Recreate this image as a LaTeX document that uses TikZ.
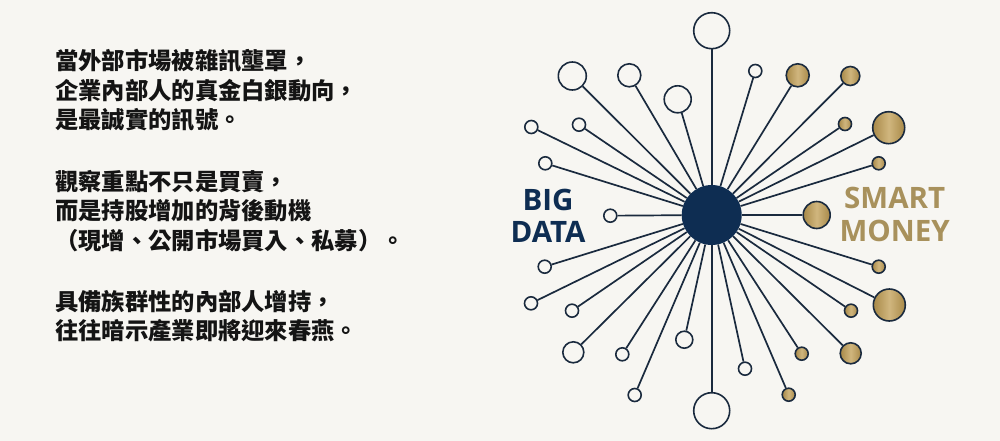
\documentclass[tikz,border=0pt]{standalone}
\usepackage{fontspec}
\usetikzlibrary{positioning}
\newfontfamily\cjkfont{Noto Sans CJK TC}
\newfontfamily\labelfont{Open Sans}
\definecolor{paper}{HTML}{F7F6F2}
\definecolor{hubnavy}{HTML}{0E2D52}
\definecolor{linenavy}{HTML}{1A2A3E}
\definecolor{golddark}{HTML}{A88948}
\definecolor{goldlight}{HTML}{D0B67E}
\definecolor{goldtext}{HTML}{A8915C}
\definecolor{inktext}{HTML}{141414}
\tikzstyle{hub}=[circle, fill=hubnavy, minimum size=60pt, inner sep=0pt]
\tikzstyle{dball}=[circle, draw=linenavy, fill=paper, line width=1.6pt,
                   inner sep=0pt]
\tikzstyle{mball}=[circle, draw=linenavy, line width=1.6pt, inner sep=0pt,
                   left color=golddark, right color=golddark, middle color=goldlight]
\tikzstyle{spoke}=[-, line width=1.7pt, draw=linenavy]
\tikzstyle{para}=[anchor=north west, inner sep=0pt, align=left, text=inktext,
                  font=\cjkfont\bfseries\fontsize{23.3pt}{29.5pt}\selectfont]
\tikzstyle{biglabel}=[align=center, inner sep=0pt,
                      font=\labelfont\bfseries\fontsize{29.5pt}{32.5pt}\selectfont]

\begin{document}
\begin{tikzpicture}[x=1pt, y=-1pt]
\fill[paper] (0,0) rectangle (1000,441);
\useasboundingbox (0,0) rectangle (1000,441);

% left text
\node (PARA1) [para] at (55,49.5) {當外部市場被雜訊壟罩，\\企業內部人的真金白銀動向，\\是最誠實的訊號。};
\node (PARA2) [para] at (55,170) {觀察重點不只是買賣，\\而是持股增加的背後動機\\（現增、公開市場買入、私募）。};
\node (PARA3) [para] at (55,290) {具備族群性的內部人增持，\\往往暗示產業即將迎來春燕。};

% hub and balls
\node (HUB) [hub] at (711.7,215) {};
\node (D01) [dball, minimum size=36pt] at (711.7,30.7) {};
\node (D02) [dball, minimum size=28pt] at (572.3,76) {};
\node (D03) [dball, minimum size=23pt] at (629.3,75.3) {};
\node (D04) [dball, minimum size=27pt] at (677.7,99.3) {};
\node (D05) [dball, minimum size=13pt] at (755.3,71) {};
\node (D06) [dball, minimum size=13pt] at (531.3,127) {};
\node (D07) [dball, minimum size=13pt] at (579,124.7) {};
\node (D08) [dball, minimum size=13pt] at (545.3,163.3) {};
\node (D09) [dball, minimum size=13pt] at (610.3,215.7) {};
\node (D10) [dball, minimum size=13pt] at (544.7,266.7) {};
\node (D11) [dball, minimum size=13pt] at (531,303.3) {};
\node (D12) [dball, minimum size=13pt] at (572,310.7) {};
\node (D13) [dball, minimum size=21pt] at (573.3,352.3) {};
\node (D14) [dball, minimum size=13pt] at (622.3,354.3) {};
\node (D15) [dball, minimum size=17pt] at (684.3,339.7) {};
\node (D16) [dball, minimum size=13pt] at (745,368.7) {};
\node (D17) [dball, minimum size=13pt] at (634.7,395) {};
\node (D18) [dball, minimum size=36pt] at (711.7,410.7) {};
\node (M01) [mball, minimum size=23pt] at (797.7,75.3) {};
\node (M02) [mball, minimum size=19pt] at (850.3,76) {};
\node (M03) [mball, minimum size=13pt] at (845,124) {};
\node (M04) [mball, minimum size=32pt] at (888.7,127.7) {};
\node (M05) [mball, minimum size=13pt] at (878.7,163.3) {};
\node (M06) [mball, minimum size=27pt] at (816.7,215) {};
\node (M07) [mball, minimum size=13pt] at (878.7,266.7) {};
\node (M08) [mball, minimum size=13pt] at (851,310.7) {};
\node (M09) [mball, minimum size=32pt] at (889.3,305) {};
\node (M10) [mball, minimum size=13pt] at (801.7,353.7) {};
\node (M11) [mball, minimum size=21pt] at (850.7,353.3) {};
\node (M12) [mball, minimum size=13pt] at (788.7,394.7) {};

% spokes
 \draw[spoke] (HUB) -- (D01); \draw[spoke] (HUB) -- (D02); \draw[spoke] (HUB) -- (D03);
 \draw[spoke] (HUB) -- (D04); \draw[spoke] (HUB) -- (D05); \draw[spoke] (HUB) -- (D06);
 \draw[spoke] (HUB) -- (D07); \draw[spoke] (HUB) -- (D08); \draw[spoke] (HUB) -- (D09);
 \draw[spoke] (HUB) -- (D10); \draw[spoke] (HUB) -- (D11); \draw[spoke] (HUB) -- (D12);
 \draw[spoke] (HUB) -- (D13); \draw[spoke] (HUB) -- (D14); \draw[spoke] (HUB) -- (D15);
 \draw[spoke] (HUB) -- (D16); \draw[spoke] (HUB) -- (D17); \draw[spoke] (HUB) -- (D18);
 \draw[spoke] (HUB) -- (M01); \draw[spoke] (HUB) -- (M02); \draw[spoke] (HUB) -- (M03);
 \draw[spoke] (HUB) -- (M04); \draw[spoke] (HUB) -- (M05); \draw[spoke] (HUB) -- (M06);
 \draw[spoke] (HUB) -- (M07); \draw[spoke] (HUB) -- (M08); \draw[spoke] (HUB) -- (M09);
 \draw[spoke] (HUB) -- (M10); \draw[spoke] (HUB) -- (M11); \draw[spoke] (HUB) -- (M12);

% labels
\node (BIGDATA) [biglabel, text=hubnavy] at (548,216) {BIG\\DATA};
\node (SMARTMONEY) [biglabel, text=goldtext] at (894.7,214.5) {SMART\\MONEY};

\end{tikzpicture}
\end{document}
